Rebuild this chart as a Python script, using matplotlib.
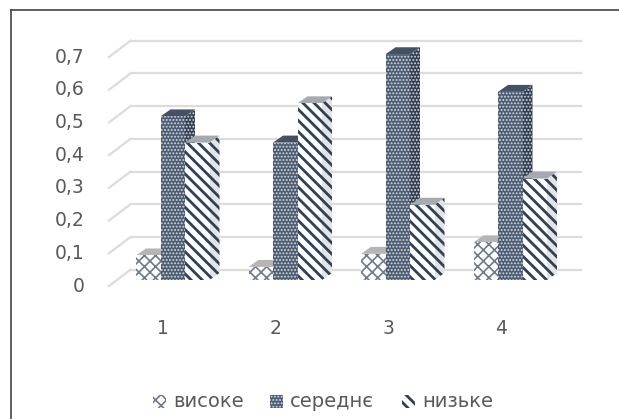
import matplotlib
matplotlib.use('Agg')
import matplotlib.pyplot as plt
from matplotlib.patches import Polygon, Rectangle
from matplotlib.lines import Line2D

plt.rcParams['font.family'] = ['DejaVu Sans']

groups = [1, 2, 3, 4]
high = [0.075, 0.04, 0.08, 0.115]
medium = [0.50, 0.42, 0.69, 0.575]
low = [0.42, 0.54, 0.23, 0.31]
series_names = ['високе', 'середнє', 'низьке']
y_ticks = [0, 0.1, 0.2, 0.3, 0.4, 0.5, 0.6, 0.7]

W, H = 619, 419
TEXT = '#595959'
GRID = '#dcdcdc'
NAVY = '#2f4057'

# hatch styles per series: face, hatch colour, hatch, hatch width, side and top faces
STYLES = [
    dict(face='white', edge='#6d7a8c', hatch='xxx', lw=1.2, side='#f4f4f4', top='#b5b5b5'),
    dict(face='#4d5c72', edge='#d5dae1', hatch='.....', lw=0.9, side='#333f53', top='#445064'),
    dict(face='white', edge=NAVY, hatch='\\\\\\', lw=2.0, side='#e4e4e4', top='#a5a9b0'),
]

fig = plt.figure(figsize=(W / 100, H / 100), dpi=100)
ax = fig.add_axes([109 / W, 1 - 286 / H, 450 / W, 229 / H])
ax.set_xlim(0.5, 4.5)
ax.set_ylim(0, 0.7)
ax.axis('off')

# data units per pixel, used for the oblique depth of the floor and the bars
ux = 4 / 450
uy = 0.7 / 229
wall_dx, wall_dy = 21.5 * ux, 16.3 * uy
bar_dx, bar_dy = 7.5 * ux, 6 * uy
depth_dx, depth_dy = 10 * ux, 7 * uy
bar_w = 24.5 * ux

for t in y_ticks:
    ax.plot([0.5, 0.5 + wall_dx], [t, t + wall_dy], color=GRID, lw=1.6, clip_on=False)
    ax.plot([0.5 + wall_dx, 4.5 + wall_dx], [t + wall_dy, t + wall_dy], color=GRID, lw=1.6, clip_on=False)
    ax.text(0.5 - 24 * ux, t, f'{t:g}'.replace('.', ','), ha='right', va='center',
            fontsize=13.5, color=TEXT)

for g in groups:
    ax.text(g - 2 * ux, -42 * uy, str(g), ha='center', va='center', fontsize=13.5, color=TEXT)

for k, (vals, st) in enumerate(zip([high, medium, low], STYLES)):
    for g, v in zip(groups, vals):
        x0 = g + bar_dx + (k - 1.5) * bar_w
        x1 = x0 + bar_w
        y1 = bar_dy + v
        side = Polygon([(x1, bar_dy), (x1 + depth_dx, bar_dy + depth_dy),
                        (x1 + depth_dx, y1 + depth_dy), (x1, y1)],
                       facecolor=st['side'], edgecolor=st['edge'], hatch=st['hatch'],
                       lw=0, zorder=3 + k, clip_on=False)
        top = Polygon([(x0, y1), (x1, y1), (x1 + depth_dx, y1 + depth_dy),
                       (x0 + depth_dx, y1 + depth_dy)],
                      facecolor=st['top'], edgecolor='none', zorder=3 + k, clip_on=False)
        side.set_hatch_linewidth(st['lw'])
        ax.add_patch(side)
        ax.add_patch(top)
    bars = ax.bar([g + bar_dx + (k - 1) * bar_w for g in groups], vals, width=bar_w, bottom=bar_dy,
                  facecolor=st['face'], edgecolor=st['edge'], hatch=st['hatch'], lw=0,
                  zorder=3 + k, clip_on=False)
    for b in bars:
        b.set_hatch_linewidth(st['lw'])

# legend placed by hand so the keys sit tight against the labels
overlay = fig.add_axes([0, 0, 1, 1])
overlay.set_xlim(0, W)
overlay.set_ylim(H, 0)
overlay.axis('off')
overlay.patch.set_alpha(0)
for name, st, kx, tx in zip(series_names, STYLES, [153, 270, 402], [173, 290, 422]):
    key = Rectangle((kx, 395), 13, 13, facecolor=st['face'], edgecolor=st['edge'],
                    hatch=st['hatch'], lw=0)
    key.set_hatch_linewidth(st['lw'])
    overlay.add_patch(key)
    overlay.text(tx, 401, name, ha='left', va='center', fontsize=14, color=TEXT)

# frame lines along the top and left edges
overlay.add_line(Line2D([11, 11], [419, 10], color='#444444', lw=1.2))
overlay.add_line(Line2D([11, 619], [10, 10], color='#444444', lw=1.2))

fig.savefig('out.png', dpi=100, facecolor='white')
